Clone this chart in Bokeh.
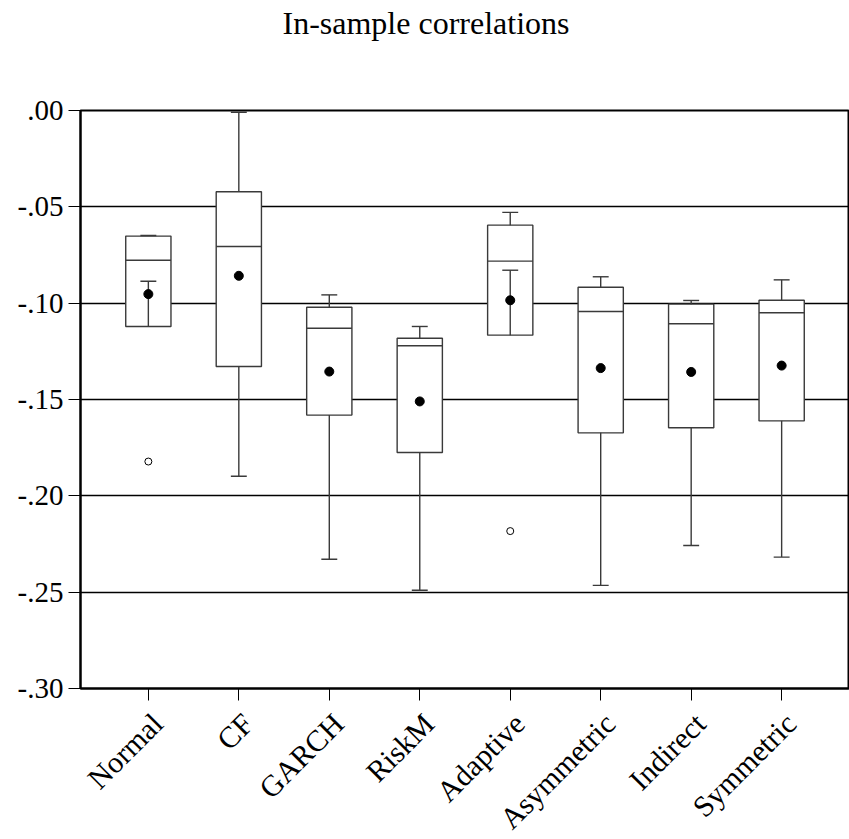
import math
from bokeh.plotting import figure
from bokeh.layouts import column
from bokeh.models import Range1d, FixedTicker, CustomJSTickFormatter
from bokeh.core.properties import value
from bokeh.embed import file_html
from bokeh.resources import INLINE

categories = ["Normal", "CF", "GARCH", "RiskM", "Adaptive", "Asymmetric", "Indirect", "Symmetric"]
upper_whisker = [-0.0649, -0.0009, -0.0957, -0.1121, -0.0529, -0.0863, -0.0986, -0.0879]
q3 = [-0.0652, -0.0422, -0.1021, -0.1182, -0.0595, -0.0917, -0.1005, -0.0985]
median = [-0.0777, -0.0706, -0.1130, -0.1221, -0.0782, -0.1043, -0.1107, -0.1050]
q1 = [-0.1121, -0.1329, -0.1581, -0.1775, -0.1166, -0.1673, -0.1647, -0.1611]
lower_whisker = [-0.0886, -0.1898, -0.2329, -0.2490, -0.0829, -0.2465, -0.2258, -0.2318]
mean = [-0.0953, -0.0858, -0.1355, -0.1510, -0.0985, -0.1337, -0.1357, -0.1324]
outlier_cat = [0, 4]
outlier_val = [-0.1822, -0.2183]
y_ticks = [-0.30, -0.25, -0.20, -0.15, -0.10, -0.05, 0.0]
title_text = "In-sample correlations"

FONT = "Liberation Serif"
pos = list(range(len(categories)))
box_w = 0.5
cap_hw = 0.088
Y0, Y1 = -0.30, 0.0
X0, X1 = -0.75, len(categories) - 0.25

W = 849
TITLE_H = 86          # strip above the plot holding the title
TOP_B, BOT_B, LEFT_B = 24, 16, 80
FRAME_H = 578
MAIN_H = TOP_B + FRAME_H + BOT_B
LABEL_H = 839 - TITLE_H - MAIN_H

xr = Range1d(X0, X1)

def bare(fig):
    fig.axis.visible = False
    fig.grid.visible = False
    fig.outline_line_color = None
    fig.background_fill_color = "white"
    fig.border_fill_color = "white"
    return fig

# ---- title strip
tf = bare(figure(width=W, height=TITLE_H, output_backend="svg", toolbar_location=None,
                 x_range=Range1d(0, 1), y_range=Range1d(-TITLE_H, 0),
                 min_border_left=LEFT_B, min_border_right=0,
                 min_border_top=0, min_border_bottom=0))
tf.text(x=[0.5], y=[-22], text=[title_text], text_font=value(FONT), text_font_size="32px",
        text_align="center", text_baseline="alphabetic", text_color="black", x_offset=-39)

# ---- main plot
p = figure(width=W, height=MAIN_H, output_backend="svg", toolbar_location=None,
           x_range=xr, y_range=Range1d(Y0, Y1),
           min_border_left=LEFT_B, min_border_right=0, min_border_top=TOP_B,
           min_border_bottom=BOT_B)
p.background_fill_color = "white"
p.border_fill_color = "white"
p.outline_line_color = "black"
p.outline_line_width = 2

p.xgrid.visible = False
p.ygrid.ticker = FixedTicker(ticks=y_ticks)
p.ygrid.grid_line_color = "black"
p.ygrid.grid_line_width = 1.5

p.yaxis.ticker = FixedTicker(ticks=y_ticks)
p.yaxis.formatter = CustomJSTickFormatter(code="""
const v = Math.round(Math.abs(tick) * 100);
const s = (v < 10 ? '0' : '') + v;
return (v === 0 ? '' : '-') + '.' + s;
""")
p.xaxis.ticker = FixedTicker(ticks=pos)
p.xaxis.formatter = CustomJSTickFormatter(code="return '';")
for ax in (p.xaxis[0], p.yaxis[0]):
    ax.axis_line_color = "black"
    ax.axis_line_width = 2
    ax.major_tick_line_color = "black"
    ax.major_tick_line_width = 1
    ax.major_tick_out = 12
    ax.major_tick_in = 0
    ax.minor_tick_line_color = None
    ax.major_label_text_font = FONT
    ax.major_label_text_color = "black"
    ax.major_label_standoff = 5
p.yaxis.major_label_text_font_size = "29px"
p.xaxis.major_label_text_font_size = "0px"
p.xaxis.major_label_standoff = 0

LC = "#3a3a3a"
LW = 1.4

p.vbar(x=pos, width=box_w, top=q3, bottom=q1, fill_color="white",
       line_color=LC, line_width=LW)
p.segment(x0=[x - box_w / 2 for x in pos], x1=[x + box_w / 2 for x in pos],
          y0=median, y1=median, line_color=LC, line_width=LW)
p.segment(x0=pos, x1=pos, y0=q3, y1=upper_whisker, line_color=LC, line_width=LW)
p.segment(x0=pos, x1=pos, y0=q1, y1=lower_whisker, line_color=LC, line_width=LW)
p.segment(x0=[x - cap_hw for x in pos], x1=[x + cap_hw for x in pos],
          y0=upper_whisker, y1=upper_whisker, line_color=LC, line_width=LW)
p.segment(x0=[x - cap_hw for x in pos], x1=[x + cap_hw for x in pos],
          y0=lower_whisker, y1=lower_whisker, line_color=LC, line_width=LW)
p.scatter(x=pos, y=mean, size=9, marker="circle", fill_color="black", line_color="black")
p.scatter(x=outlier_cat, y=outlier_val, size=7, marker="circle", fill_color="white",
          line_color="black", line_width=1)

# ---- category label strip (shares the x scale of the main plot)
lf = bare(figure(width=W, height=LABEL_H, output_backend="svg", toolbar_location=None,
                 x_range=xr, y_range=Range1d(-LABEL_H, 0),
                 min_border_left=LEFT_B, min_border_right=0,
                 min_border_top=0, min_border_bottom=0))
lf.text(x=pos, y=[-14] * len(pos), text=categories, angle=math.pi / 4,
        text_align="right", text_baseline="middle", text_font=value(FONT),
        text_font_size="30px", text_color="black", x_offset=9)

layout = column(tf, p, lf, spacing=0)
open("out.html", "w").write(file_html(layout, INLINE))
